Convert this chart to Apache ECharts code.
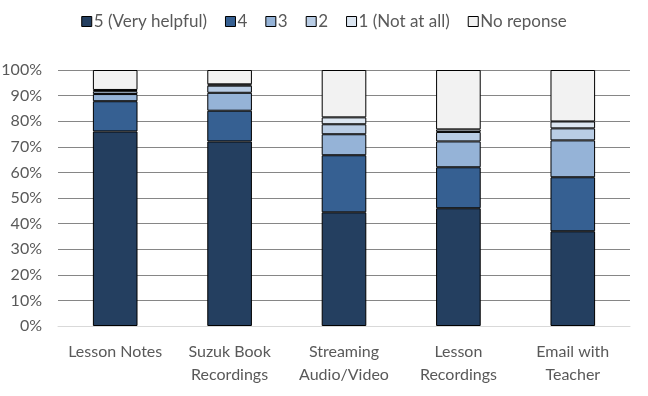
<!DOCTYPE html>
<html><head><meta charset="utf-8">
<script src="https://cdn.jsdelivr.net/npm/echarts@6/dist/echarts.min.js"></script>
<style>html,body{margin:0;padding:0;background:#fff}#c{width:648px;height:396px}</style>
</head><body><div id="c"></div>
<script>
var categories = ['Lesson Notes', 'Suzuk Book\nRecordings', 'Streaming\nAudio/Video', 'Lesson\nRecordings', 'Email with\nTeacher'];
var seriesNames = ['5 (Very helpful)', '4', '3', '2', '1 (Not at all)', 'No reponse'];
var s5 = [76.0, 72.1, 44.4, 46.0, 37.0];
var s4 = [11.8, 12.0, 22.3, 16.0, 21.1];
var s3 = [2.8, 7.0, 8.2, 10.1, 14.4];
var s2 = [1.1, 2.8, 3.9, 3.7, 4.7];
var s1 = [0.5, 0.5, 2.7, 1.0, 2.7];
var sNR = [7.8, 5.6, 18.5, 23.2, 20.1];
var yTicks = [0, 10, 20, 30, 40, 50, 60, 70, 80, 90, 100];
var colors = ['#243f60', '#366092', '#95b3d7', '#b9cde5', '#dce6f1', '#f2f2f2'];
var allData = [s5, s4, s3, s2, s1, sNR];

var font = 'Lato';
var chart = echarts.init(document.getElementById('c'));
chart.setOption({
  animation: false,
  color: colors,
  legend: {
    top: 8, left: 'center',
    itemWidth: 10, itemHeight: 10, itemGap: 18,
    textStyle: { fontFamily: font, fontSize: 17, color: '#595959', padding: [0, 0, 0, -3] },
    data: seriesNames.map(function (n, i) { return { name: n, icon: 'rect', itemStyle: { borderColor: '#000', borderWidth: 1 } }; })
  },
  grid: { left: 58, right: 18, top: 70, bottom: 70, containLabel: false, outerBoundsMode: 'none' },
  xAxis: {
    type: 'category', data: categories,
    axisLine: { lineStyle: { color: '#d9d9d9', width: 1 } },
    axisTick: { show: false },
    axisLabel: { interval: 0, fontFamily: font, fontSize: 16, color: '#595959', margin: 14, lineHeight: 23 }
  },
  yAxis: {
    type: 'value', min: 0, max: 100, interval: 10,
    axisLine: { show: false }, axisTick: { show: false },
    splitLine: { lineStyle: { color: '#868686', width: 1 } },
    axisLabel: { fontFamily: font, fontSize: 16, color: '#595959', margin: 16, formatter: function (v) { return yTicks.indexOf(v) >= 0 ? v + '%' : ''; } }
  },
  series: seriesNames.map(function (n, i) {
    return {
      name: n, type: 'bar', stack: 'total', data: allData[i], barWidth: '39%',
      itemStyle: { color: colors[i], borderColor: '#000', borderWidth: 1 }
    };
  })
});
</script></body></html>
